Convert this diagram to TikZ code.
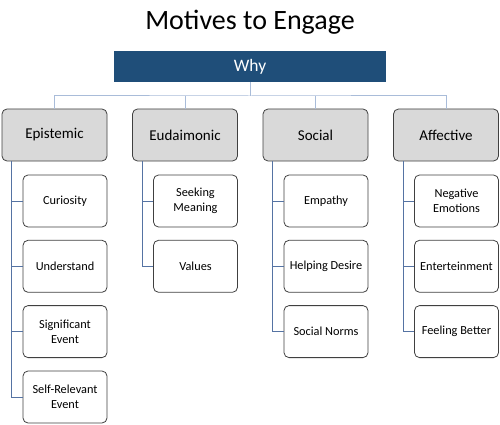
\documentclass[tikz,border=0pt]{standalone}
\usepackage{fontspec}
\setmainfont{Carlito}
\definecolor{whyblue}{HTML}{1F4E79}
\definecolor{buscol}{HTML}{A9BCD9}
\definecolor{branchcol}{HTML}{5573A3}
\definecolor{catfill}{HTML}{D9D9D9}
\begin{document}
\begin{tikzpicture}[x=1pt,y=-1pt,
  cat/.style={draw=black!75, fill=catfill, rounded corners=5pt, minimum width=105pt, minimum height=52pt, inner sep=0pt, font=\fontsize{15}{18}\selectfont, line width=0.8pt},
  child/.style={draw=black!75, fill=white, rounded corners=5pt, minimum width=84pt, minimum height=52pt, inner sep=0pt, align=center, font=\fontsize{12.3}{14.5}\selectfont, line width=0.8pt},
  bus/.style={draw=buscol, line width=1pt},
  branch/.style={draw=branchcol, line width=1pt}]
\useasboundingbox (0,0) rectangle (500,425);
\node (title) at (250,22) {\fontsize{28}{32}\selectfont Motives to Engage};
\node[fill=whyblue, minimum width=272pt, minimum height=31pt, inner sep=0pt, text=white, font=\fontsize{17.5}{20}\selectfont] (why) at (250,66.5) {Why};
\coordinate (bus) at (250,96);
% categories
\node[cat] (epi) at (54.5,135) {Epistemic};
\node[cat] (eud) at (185,135) {Eudaimonic};
\node[cat] (soc) at (315.5,135) {Social};
\node[cat] (aff) at (446,135) {Affective};
% bus connectors
\draw[bus] (why.south) -- (bus);
\draw[bus] (epi.north) |- (bus) -| (aff.north);
\draw[bus] (eud.north) -- (eud.north |- bus);
\draw[bus] (soc.north) -- (soc.north |- bus);
% children
\node[child] (e1) at (65,201) {Curiosity};
\node[child] (e2) at (65,266.3) {Understand};
\node[child] (e3) at (65,331.6) {Significant\\Event};
\node[child] (e4) at (65,397) {Self-Relevant\\Event};
\node[child] (u1) at (195.5,201) {Seeking\\Meaning};
\node[child] (u2) at (195.5,266.3) {Values};
\node[child] (s1) at (326,201) {Empathy};
\node[child] (s2) at (326,266.3) {Helping Desire};
\node[child] (s3) at (326,331.6) {Social Norms};
\node[child] (a1) at (456.5,201) {Negative\\Emotions};
\node[child] (a2) at (456.5,266.3) {Enterteinment};
\node[child] (a3) at (456.5,331.6) {Feeling Better};
% branches
\foreach \c in {e1,e2,e3,e4} \draw[branch] ([xshift=10pt]epi.south west) |- (\c.west);
\foreach \c in {u1,u2} \draw[branch] ([xshift=10pt]eud.south west) |- (\c.west);
\foreach \c in {s1,s2,s3} \draw[branch] ([xshift=10pt]soc.south west) |- (\c.west);
\foreach \c in {a1,a2,a3} \draw[branch] ([xshift=10pt]aff.south west) |- (\c.west);
\end{tikzpicture}
\end{document}
